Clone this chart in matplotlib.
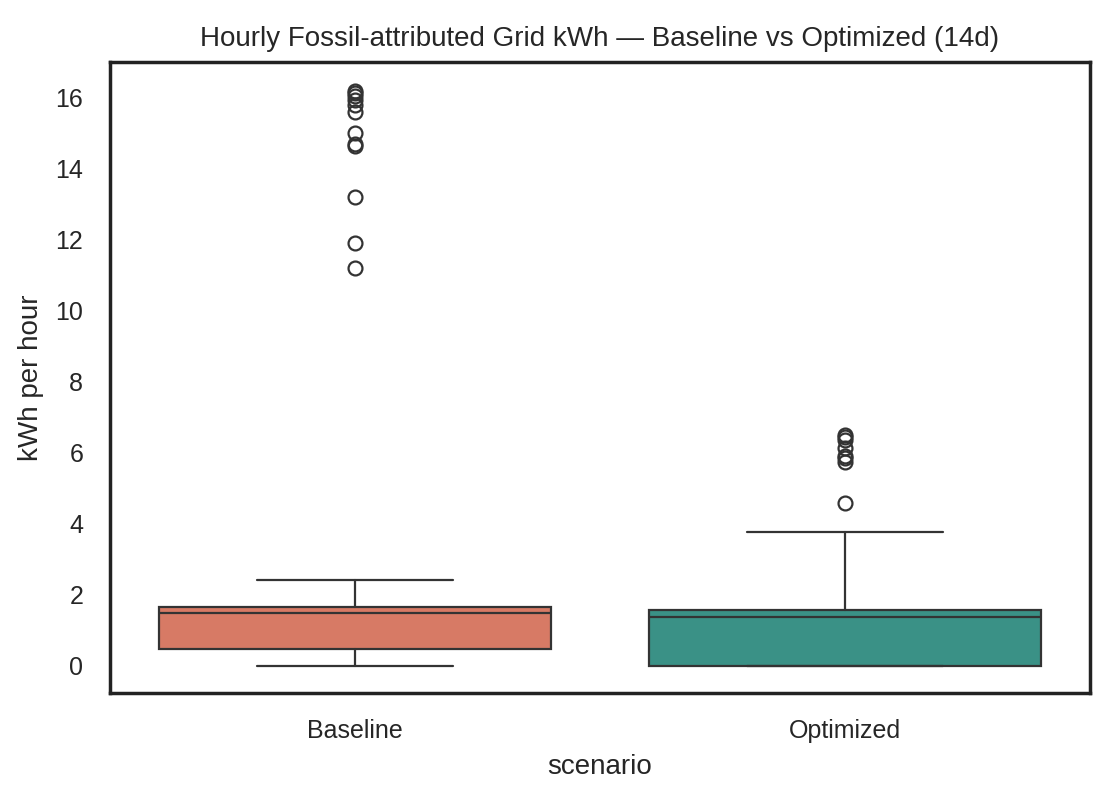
import matplotlib
matplotlib.use("Agg")
import matplotlib.pyplot as plt
import seaborn as sns

sns.set_theme(style="white")
plt.rcParams['font.family'] = ['Liberation Sans', 'DejaVu Sans']

scenarios = ["Baseline", "Optimized"]
colors = ["#d77a65", "#3a9186"]
whislo = [0.0, 0.0]
q1 = [0.48, 0.0]
med = [1.5, 1.38]
q3 = [1.65, 1.58]
whishi = [2.43, 3.77]
fliers = [
    [11.2, 11.9, 13.2, 14.65, 14.7, 15.0, 15.6, 15.8, 15.95, 16.05, 16.15, 16.2],
    [4.6, 5.75, 5.85, 5.9, 6.15, 6.35, 6.45, 6.5],
]

stats = []
for i, name in enumerate(scenarios):
    stats.append(dict(label=name, whislo=whislo[i], q1=q1[i], med=med[i],
                      q3=q3[i], whishi=whishi[i], fliers=fliers[i]))

fig, ax = plt.subplots(figsize=(5.6, 4), dpi=200)
line = dict(color="#333333", linewidth=0.8)
bp = ax.bxp(stats, positions=[0, 1], widths=0.8, patch_artist=True,
            boxprops=dict(edgecolor="#333333", linewidth=0.8),
            medianprops=line, whiskerprops=line, capprops=line,
            flierprops=dict(marker="o", markerfacecolor="none",
                            markeredgecolor="#333333", markersize=5,
                            markeredgewidth=0.8))
for patch, c in zip(bp["boxes"], colors):
    patch.set_facecolor(c)

ax.set_xlim(-0.5, 1.5)
ax.set_ylim(-0.76, 17.0)
ax.set_xticks([0, 1])
ax.set_xticklabels(scenarios)
ax.set_xlabel("scenario", fontsize=10)
ax.set_ylabel("kWh per hour", fontsize=10)
ax.tick_params(labelsize=9)
ax.set_title("Hourly Fossil-attributed Grid kWh — Baseline vs Optimized (14d)", fontsize=10)
for s in ax.spines.values():
    s.set_color("#222222")
plt.subplots_adjust(left=0.098, right=0.973, top=0.922, bottom=0.134)
plt.savefig("out.png")
